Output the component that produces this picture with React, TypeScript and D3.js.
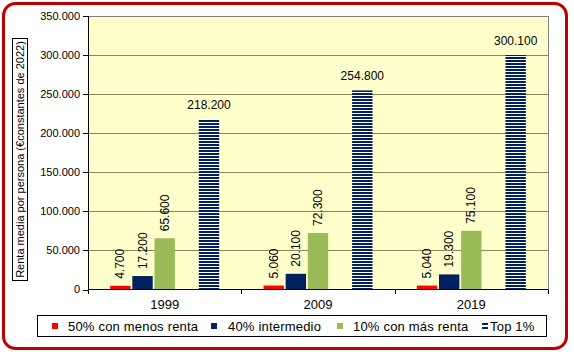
import React from "react";
import * as d3 from "d3";

const years = ["1999", "2009", "2019"];
const bottom50 = [4700, 5060, 5040];
const middle40 = [17200, 20100, 19300];
const top10 = [65600, 72300, 75100];
const top1 = [218200, 254800, 300100];
const yTicks = [0, 50000, 100000, 150000, 200000, 250000, 300000, 350000];

const seriesNames = ["50% con menos renta", "40% intermedio", "10% con más renta", "Top 1%"];
const seriesKeys = ["s50", "s40", "s10", "_gap", "top1"];

const W = 574;
const H = 356;
const FONT = "'Liberation Sans', Arial, sans-serif";
const RED = "#FF0000";
const NAVY = "#002060";
const GREEN = "#9BBB59";

const loc = d3.formatLocale({ decimal: ",", thousands: ".", grouping: [3], currency: ["", "€"] });
const fmt = loc.format(",.0f");

export default function App() {
  const x0 = d3.scaleBand<string>().domain(years).range([88, 548]).paddingInner(0).paddingOuter(0);
  const x1 = d3
    .scaleBand<string>()
    .domain(seriesKeys)
    .range([0, x0.bandwidth()])
    .paddingInner(0.08)
    .paddingOuter(1);
  const y = d3.scaleLinear().domain([0, 350000]).range([289.5, 16]);

  const small = [
    { key: "s50", vals: bottom50, color: RED },
    { key: "s40", vals: middle40, color: NAVY },
    { key: "s10", vals: top10, color: GREEN },
  ];

  const boundaries = [...years.map((yr) => x0(yr)!), 548];

  return (
    <div style={{ position: "absolute", left: 0, top: 0 }}>
      <svg width={W} height={H} style={{ display: "block", fontFamily: FONT }}>
        <defs>
          <pattern id="hstripe" patternUnits="userSpaceOnUse" width={6} height={3}>
            <rect x={0} y={0} width={6} height={3} fill="#FFFFFF" />
            <rect x={0} y={0} width={6} height={2} fill={NAVY} />
          </pattern>
        </defs>
        <rect x={0} y={0} width={W} height={H} fill="#FFFFFF" />
        <rect x={3.5} y={3.5} width={563} height={345} rx={12} ry={12} fill="#FFFFFF" stroke="#C00000" strokeWidth={3} />

        {/* plot area */}
        <rect x={88} y={16} width={460} height={y(0) - 16} fill="#FFFFCC" />
        {yTicks.slice(1, -1).map((t) => (
          <line key={t} x1={88} x2={548} y1={Math.round(y(t)) + 0.5} y2={Math.round(y(t)) + 0.5} stroke="#86865A" strokeWidth={1} />
        ))}
        <line x1={88} x2={548.5} y1={16.5} y2={16.5} stroke="#808080" />
        <line x1={548.5} x2={548.5} y1={16} y2={289.5} stroke="#808080" />

        {/* bars */}
        {small.map((s) =>
          years.map((yr, i) => {
            const bx = x0(yr)! + x1(s.key)!;
            const by = y(s.vals[i]);
            return (
              <g key={s.key + yr}>
                <rect x={bx} y={by} width={x1.bandwidth()} height={y(0) - by} fill={s.color} />
                <text
                  transform={`translate(${bx + x1.bandwidth() / 2 + 4},${by - 7}) rotate(-90)`}
                  fontSize={12}
                  fill="#000"
                  textAnchor="start"
                >
                  {fmt(s.vals[i])}
                </text>
              </g>
            );
          })
        )}
        {years.map((yr, i) => {
          const bx = x0(yr)! + x1("top1")!;
          const by = y(top1[i]);
          return (
            <g key={"t" + yr}>
              <rect x={bx} y={by} width={x1.bandwidth()} height={y(0) - by} fill="url(#hstripe)" />
              <text x={bx + x1.bandwidth() / 2} y={by - 10} fontSize={12} textAnchor="middle" fill="#000">
                {fmt(top1[i])}
              </text>
            </g>
          );
        })}

        {/* y axis */}
        <line x1={88.5} x2={88.5} y1={16} y2={290} stroke="#000" />
        {yTicks.map((t) => (
          <g key={"yt" + t}>
            <line x1={83} x2={88} y1={Math.round(y(t)) + 0.5} y2={Math.round(y(t)) + 0.5} stroke="#000" />
            <text x={80} y={y(t)} dy="0.36em" fontSize={11} textAnchor="end" fill="#000">
              {fmt(t)}
            </text>
          </g>
        ))}

        {/* x axis */}
        <line x1={88} x2={548.5} y1={289.5} y2={289.5} stroke="#000" />
        {boundaries.map((b, i) => (
          <line key={"xt" + i} x1={Math.round(b) + 0.5} x2={Math.round(b) + 0.5} y1={289.5} y2={294} stroke="#000" />
        ))}
        {years.map((yr) => (
          <text key={"xl" + yr} x={x0(yr)! + x0.bandwidth() / 2} y={309} fontSize={13} textAnchor="middle" fill="#000">
            {yr}
          </text>
        ))}

        {/* y title */}
        <rect x={12.5} y={38.5} width={15} height={242} fill="#FFFFFF" stroke="#000" />
        <text
          transform={`translate(${20.5},${159.5}) rotate(-90)`}
          fontSize={11}
          textAnchor="middle"
          dy="0.36em"
          fill="#000"
        >
          Renta media por persona (€constantes de 2022)
        </text>

        {/* legend */}
        <rect x={37.5} y={315.5} width={509} height={21} fill="#FFFFFF" stroke="#000" />
        {[
          { sx: 52, tx: 68, color: RED },
          { sx: 211, tx: 228, color: NAVY },
          { sx: 337, tx: 353, color: GREEN },
        ].map((it, i) => (
          <g key={"lg" + i}>
            <rect x={it.sx} y={323} width={6} height={6} fill={it.color} />
            <text x={it.tx} y={330.5} fontSize={13} fill="#000" letterSpacing={0.2}>
              {seriesNames[i]}
            </text>
          </g>
        ))}
        <rect x={482} y={323} width={6} height={2} fill={NAVY} />
        <rect x={482} y={327} width={6} height={2} fill={NAVY} />
        <text x={490} y={330.5} fontSize={13} fill="#000" letterSpacing={0.2}>
          {seriesNames[3]}
        </text>
      </svg>
    </div>
  );
}
